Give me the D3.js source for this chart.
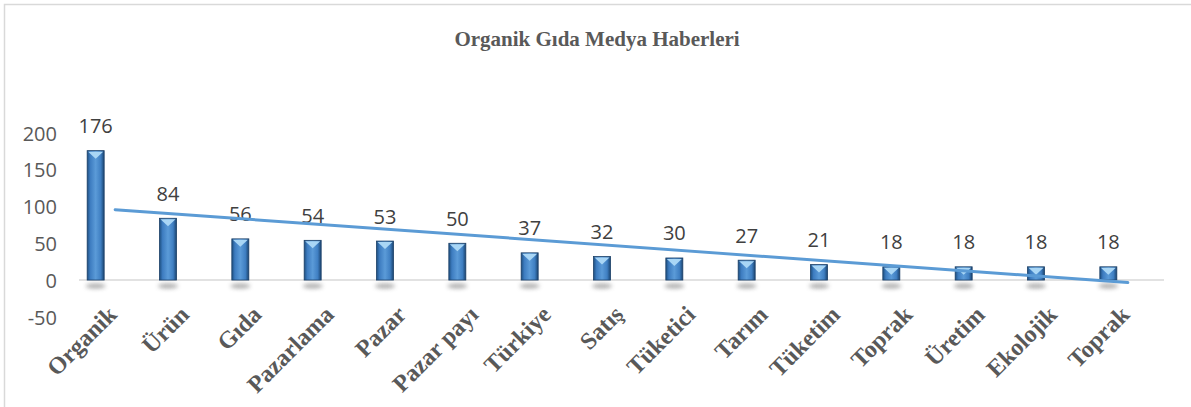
<!DOCTYPE html>
<html>
<head>
<meta charset="utf-8">
<script src="https://cdn.jsdelivr.net/npm/d3@7"></script>
<style>
  body { margin: 0; background: #fff; }
  svg { display: block; }
</style>
</head>
<body>
<div id="chart"></div>
<script>
// Data
var categories = ['Organik', 'Ürün', 'Gıda', 'Pazarlama', 'Pazar', 'Pazar payı', 'Türkiye',
                  'Satış', 'Tüketici', 'Tarım', 'Tüketim', 'Toprak', 'Üretim', 'Ekolojik', 'Toprak'];
var values = [176, 84, 56, 54, 53, 50, 37, 32, 30, 27, 21, 18, 18, 18, 18];
var yTicks = [-50, 0, 50, 100, 150, 200];
var title = 'Organik Gıda Medya Haberleri';

var width = 1191, height = 407;

var svg = d3.select('#chart')
            .append('svg')
            .attr('width', width)
            .attr('height', height);

var defs = svg.append('defs');

// Bar body gradient (rounded column look)
var grad = defs.append('linearGradient')
               .attr('id', 'barGrad')
               .attr('x1', '0%').attr('x2', '100%')
               .attr('y1', '0%').attr('y2', '0%');
grad.append('stop').attr('offset', '0%').attr('stop-color', '#1d4f80');
grad.append('stop').attr('offset', '18%').attr('stop-color', '#3d7cc0');
grad.append('stop').attr('offset', '50%').attr('stop-color', '#5b9bd8');
grad.append('stop').attr('offset', '80%').attr('stop-color', '#3f7fc2');
grad.append('stop').attr('offset', '100%').attr('stop-color', '#1a4470');

var blur = defs.append('filter')
               .attr('id', 'shadowBlur')
               .attr('x', '-50%').attr('y', '-100%')
               .attr('width', '200%').attr('height', '300%');
blur.append('feGaussianBlur').attr('stdDeviation', 2.2);

// Chart frame
svg.append('rect')
   .attr('x', 4.5)
   .attr('y', 4.5)
   .attr('width', width + 10)
   .attr('height', height + 10)
   .attr('fill', '#fff')
   .attr('stroke', '#d9d9d9')
   .attr('stroke-width', 1.5);

// Title
svg.append('text')
   .attr('x', 597)
   .attr('y', 46)
   .attr('text-anchor', 'middle')
   .attr('font-family', '"Liberation Serif", "Times New Roman", serif')
   .attr('font-weight', 'bold')
   .attr('font-size', 21)
   .attr('fill', '#595959')
   .text(title);

// Scales
var x = d3.scalePoint()
          .domain(d3.range(categories.length))
          .range([79, 1164])
          .padding(0.5);

var y = d3.scaleLinear()
          .domain([-50, 200])
          .range([316.8, 133]);

var barOffset = -19.5,
    barWidth = 17;

// Y axis labels (no axis line)
var y_axis = d3.axisLeft(y)
               .tickValues(yTicks)
               .tickFormat(function(d) { return String(d); })
               .tickSize(0)
               .tickPadding(0);

var gy = svg.append('g')
            .attr('transform', 'translate(57,0)')
            .call(y_axis);
gy.select('.domain').remove();
gy.selectAll('text')
  .attr('font-family', '"Open Sans", sans-serif')
  .attr('font-size', 20)
  .attr('fill', '#595959')
  .attr('dy', '0.36em');

// Zero baseline
svg.append('line')
   .attr('x1', 79)
   .attr('x2', 1164)
   .attr('y1', y(0))
   .attr('y2', y(0))
   .attr('stroke', '#d9d9d9')
   .attr('stroke-width', 1.5);

var g = svg.append('g');

// Shadows under bars
g.selectAll('.shadow')
 .data(values)
 .enter().append('ellipse')
 .attr('class', 'shadow')
 .attr('cx', function(d, i) { return x(i) + barOffset; })
 .attr('cy', y(0) + 6)
 .attr('rx', 10)
 .attr('ry', 2.5)
 .attr('fill', '#666')
 .attr('opacity', 0.55)
 .attr('filter', 'url(#shadowBlur)');

// Bars
g.selectAll('.bar')
 .data(values)
 .enter().append('rect')
 .attr('class', 'bar')
 .attr('x', function(d, i) { return x(i) + barOffset - barWidth / 2; })
 .attr('y', function(d) { return y(d); })
 .attr('width', barWidth)
 .attr('height', function(d) { return y(0) - y(d); })
 .attr('fill', 'url(#barGrad)')
 .attr('stroke', '#1b3f66')
 .attr('stroke-width', 0.8);

// Light top facet of each bar
g.selectAll('.cap')
 .data(values)
 .enter().append('path')
 .attr('class', 'cap')
 .attr('d', function(d, i) {
   var cx = x(i) + barOffset, t = y(d), hw = barWidth / 2 - 1;
   return 'M' + (cx - hw) + ',' + (t + 1) +
          'L' + (cx + hw) + ',' + (t + 1) +
          'L' + cx + ',' + (t + 8) + 'Z';
 })
 .attr('fill', '#a9d6f5');

// Data labels
g.selectAll('.label')
 .data(values)
 .enter().append('text')
 .attr('class', 'label')
 .attr('x', function(d, i) { return x(i) + barOffset; })
 .attr('y', function(d) { return y(d) - 17.5; })
 .attr('text-anchor', 'middle')
 .attr('font-family', '"Open Sans", sans-serif')
 .attr('font-size', 20)
 .attr('fill', '#404040')
 .text(function(d) { return d; });

// Linear trend line (least squares over category index)
var idx = d3.range(1, values.length + 1);
var mx = d3.mean(idx), my = d3.mean(values);
var sxy = d3.sum(idx, function(v, i) { return (v - mx) * (values[i] - my); });
var sxx = d3.sum(idx, function(v) { return (v - mx) * (v - mx); });
var slope = sxy / sxx, intercept = my - slope * mx;

var trend = d3.line()
              .x(function(d) { return x(d - 1); })
              .y(function(d) { return y(intercept + slope * d); });

g.append('path')
 .attr('d', trend([1, values.length]))
 .attr('fill', 'none')
 .attr('stroke', '#5b9bd5')
 .attr('stroke-width', 3)
 .attr('stroke-linecap', 'round');

// Category labels, rotated
g.selectAll('.cat')
 .data(categories)
 .enter().append('text')
 .attr('class', 'cat')
 .attr('transform', function(d, i) {
   return 'translate(' + (x(i) + 3) + ',' + 316 + ') rotate(-45)';
 })
 .attr('text-anchor', 'end')
 .attr('font-family', '"Liberation Serif", "Times New Roman", serif')
 .attr('font-weight', 'bold')
 .attr('font-size', 24)
 .attr('fill', '#595959')
 .text(function(d) { return d; });
</script>
</body>
</html>
